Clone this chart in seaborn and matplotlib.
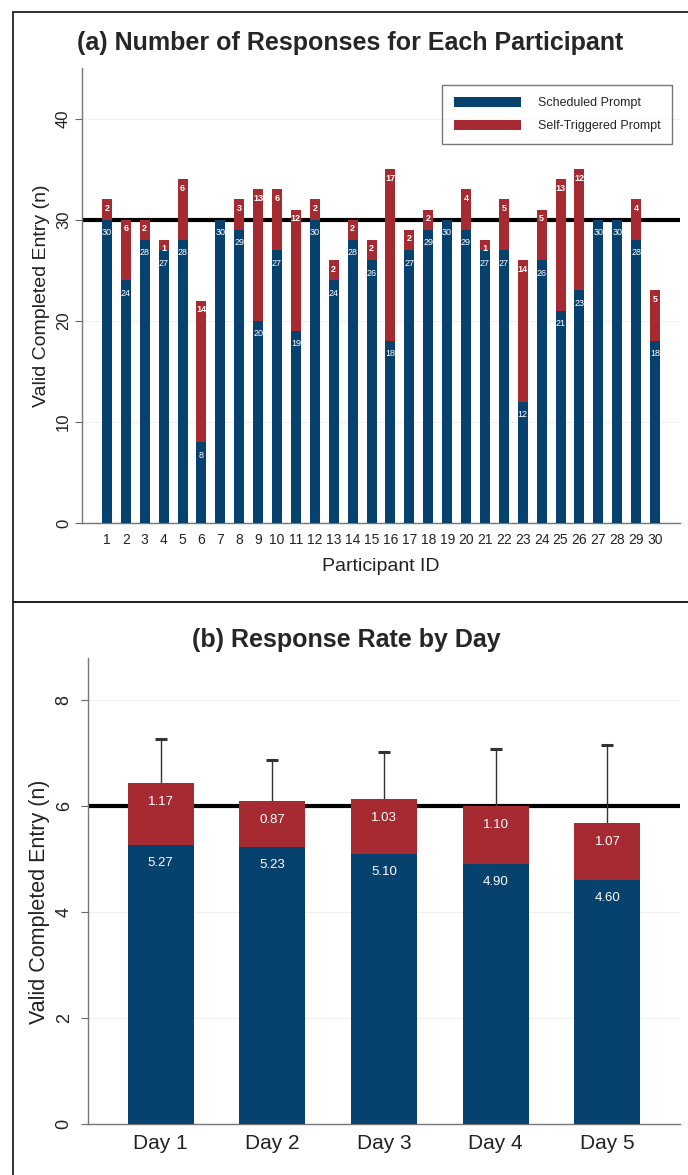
import matplotlib
matplotlib.use("Agg")
import matplotlib.pyplot as plt
import seaborn as sns
import pandas as pd
from matplotlib.patches import Patch, Rectangle

# ---------------- data ----------------
participants = [str(i) for i in range(1, 31)]
scheduled = [30, 24, 28, 27, 28, 8, 30, 29, 20, 27, 19, 30, 24, 28, 26,
             18, 27, 29, 30, 29, 27, 27, 12, 26, 21, 23, 30, 30, 28, 18]
self_triggered = [2, 6, 2, 1, 6, 14, 0, 3, 13, 6, 12, 2, 2, 2, 2,
                  17, 2, 2, 0, 4, 1, 5, 14, 5, 13, 12, 0, 0, 4, 5]

days = ["Day 1", "Day 2", "Day 3", "Day 4", "Day 5"]
day_scheduled = [5.27, 5.23, 5.10, 4.90, 4.60]
day_self = [1.17, 0.87, 1.03, 1.10, 1.07]
day_err = [0.82, 0.77, 0.89, 1.08, 1.48]

BLUE = "#07416d"
RED = "#a62a31"
REG = ["Liberation Sans", "DejaVu Sans"]

sns.set_theme(style="white")
plt.rcParams["font.family"] = REG

W, H = 688, 1175
fig = plt.figure(figsize=(W / 100, H / 100), dpi=100)


def ax_rect(l, t, r, b):
    return [l / W, 1 - b / H, (r - l) / W, (b - t) / H]


# panel frames
fig.add_artist(Rectangle((13 / W, 1 - 602 / H), (700 - 13) / W, (602 - 12) / H,
                         transform=fig.transFigure, fill=False, ec="#222222", lw=1.3))
fig.add_artist(Rectangle((13 / W, -0.05), (700 - 13) / W, 1 - 602 / H + 0.05,
                         transform=fig.transFigure, fill=False, ec="#222222", lw=1.3))

# ---------------- panel (a) ----------------
ax = fig.add_axes(ax_rect(82, 68, 680, 523))
dfa = pd.DataFrame({"pid": participants, "sched": scheduled,
                    "total": [s + t for s, t in zip(scheduled, self_triggered)]})
ax.axhline(30, color="black", lw=3, zorder=1)
sns.barplot(data=dfa, x="pid", y="total", order=participants, color=RED,
            saturation=1, width=0.53, ax=ax, edgecolor="none", zorder=2)
sns.barplot(data=dfa, x="pid", y="sched", order=participants, color=BLUE,
            saturation=1, width=0.53, ax=ax, edgecolor="none", zorder=3)
for i, (s, t) in enumerate(zip(scheduled, self_triggered)):
    ax.annotate(str(s), xy=(i, s), xytext=(0, -13), textcoords="offset pixels",
                ha="center", va="center", color="white", fontsize=6.5, zorder=5)
    if t > 0:
        ax.annotate(str(t), xy=(i, s + t), xytext=(0, -9), textcoords="offset pixels",
                    ha="center", va="center", color="white", fontsize=6.5,
                    fontweight="bold", zorder=5)
ax.set_xlim(-1.32, 30.32)
ax.set_ylim(0, 45)
ax.set_yticks([0, 10, 20, 30, 40])
ax.yaxis.grid(True, color="#f0f0f0", lw=0.8)
ax.set_axisbelow(True)
ax.tick_params(axis="y", labelrotation=90, length=5, width=0.8, color="#666666",
               labelsize=12, pad=3, left=True, labelcolor="#222222")
ax.tick_params(axis="x", length=0, labelsize=10, pad=7, labelcolor="#222222")
for lab in ax.get_yticklabels():
    lab.set_va("center")
ax.set_xlabel("Participant ID", fontsize=14, labelpad=8, color="#222222")
ax.set_ylabel("Valid Completed Entry (n)", fontsize=14, labelpad=4, color="#222222")
for sp in ["top", "right"]:
    ax.spines[sp].set_visible(False)
for sp in ["left", "bottom"]:
    ax.spines[sp].set_color("#777777")
    ax.spines[sp].set_linewidth(1.0)
handles = [Patch(facecolor=BLUE, edgecolor="none", label="Scheduled Prompt"),
           Patch(facecolor=RED, edgecolor="none", label="Self-Triggered Prompt")]
leg = ax.legend(handles=handles, loc="upper left", bbox_to_anchor=(0.602, 0.963),
                frameon=True, fancybox=False, edgecolor="#555555",
                prop={"size": 9}, handlelength=5.4,
                handleheight=0.85, handletextpad=1.3, borderpad=0.95, labelspacing=0.85,
                borderaxespad=0)
leg.get_frame().set_linewidth(1.0)

fig.text(350 / W, 1 - 43 / H, "(a) Number of Responses for Each Participant",
         ha="center", va="center", fontsize=18, fontweight="bold")

# ---------------- panel (b) ----------------
bx = fig.add_axes(ax_rect(88, 658, 680, 1124))
dfb = pd.DataFrame({"day": days, "sched": day_scheduled,
                    "total": [s + t for s, t in zip(day_scheduled, day_self)]})
tops = [tot + e for tot, e in zip(dfb["total"], day_err)]
bx.axhline(6, color="black", lw=3, zorder=1)
bx.vlines(range(len(days)), dfb["total"], tops, color="#333333", lw=1.0, zorder=1.5)
bx.plot(range(len(days)), tops, ls="none", marker="_", ms=8, mew=2.2,
        color="#333333", zorder=1.6)
sns.barplot(data=dfb, x="day", y="total", order=days, color=RED, saturation=1,
            width=0.59, ax=bx, edgecolor="none", zorder=2)
sns.barplot(data=dfb, x="day", y="sched", order=days, color=BLUE, saturation=1,
            width=0.59, ax=bx, edgecolor="none", zorder=3)
for i, (s, t) in enumerate(zip(day_scheduled, day_self)):
    bx.annotate(f"{s:.2f}", xy=(i, s), xytext=(0, -18), textcoords="offset pixels",
                ha="center", va="center", color="white", fontsize=9.5, zorder=5)
    bx.annotate(f"{t:.2f}", xy=(i, s + t), xytext=(0, -19), textcoords="offset pixels",
                ha="center", va="center", color="white", fontsize=9.5, zorder=5)
bx.set_xlim(-0.65, 4.65)
bx.set_ylim(0, 8.79)
bx.set_yticks([0, 2, 4, 6, 8])
bx.yaxis.grid(True, color="#f0f0f0", lw=0.8)
bx.set_axisbelow(True)
bx.tick_params(axis="y", labelrotation=90, length=5, width=0.8, color="#666666",
               labelsize=13, pad=6, left=True, labelcolor="#222222")
bx.tick_params(axis="x", length=0, labelsize=15, pad=7, labelcolor="#222222")
for lab in bx.get_yticklabels():
    lab.set_va("center")
bx.set_xlabel("")
bx.set_ylabel("Valid Completed Entry (n)", fontsize=15.5, labelpad=4, color="#222222")
bx.yaxis.label.set_y(0.477)
for sp in ["top", "right"]:
    bx.spines[sp].set_visible(False)
for sp in ["left", "bottom"]:
    bx.spines[sp].set_color("#777777")
    bx.spines[sp].set_linewidth(1.0)

fig.text(346 / W, 1 - 640 / H, "(b) Response Rate by Day",
         ha="center", va="center", fontsize=18, fontweight="bold")

fig.savefig("out.png", dpi=100, facecolor="white")
